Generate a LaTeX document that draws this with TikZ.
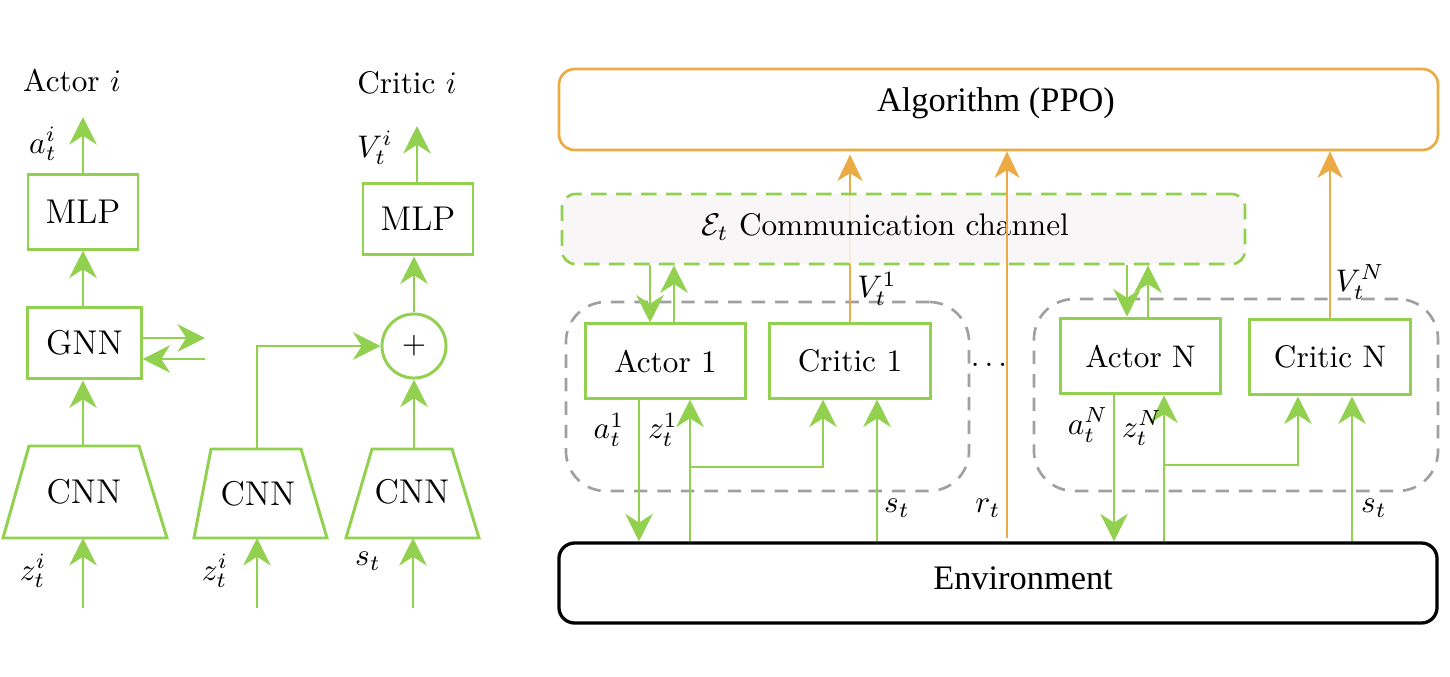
\documentclass[tikz,border=0pt]{standalone}
\usepackage{fontspec}
\newfontfamily\timesfont{Liberation Serif}
\usetikzlibrary{arrows.meta}
\definecolor{grn}{RGB}{146,208,80}
\definecolor{org}{RGB}{236,170,68}
\definecolor{gry}{RGB}{160,160,160}
\definecolor{chanfill}{RGB}{247,245,246}
\begin{document}
\begin{tikzpicture}[x=0.32pt,y=-0.32pt,
  gbox/.style={draw=grn, line width=0.95pt, fill=white, inner sep=0pt},
  garrow/.style={draw=grn, line width=0.85pt, -{Stealth[length=8.8pt,width=8.8pt,inset=2.8pt]}},
  oarrow/.style={draw=org, line width=0.7pt, -{Stealth[length=8.5pt,width=8pt,inset=2.5pt]}},
  grp/.style={draw=gry, line width=0.85pt, dash pattern=on 4.3pt off 3.2pt, rounded corners=12.8pt, inner sep=0pt},
  chanbox/.style={draw=grn, line width=0.85pt, dash pattern=on 5pt off 3pt, rounded corners=4.3pt, fill=chanfill, fill opacity=0.85, inner sep=0pt},
  algbox/.style={draw=org, line width=0.85pt, rounded corners=5pt, inner sep=0pt},
  envbox/.style={draw=black, line width=1.05pt, rounded corners=5pt, inner sep=0pt},
  lbl/.style={inner sep=0pt},
  big/.style={font=\fontsize{11pt}{13pt}\selectfont},
  tms/.style={font=\timesfont\fontsize{11pt}{13pt}\selectfont, inner sep=0pt}
]
\useasboundingbox (0,0) rectangle (1450,676);

% ---------------- left: Actor i ----------------
\node[lbl] (actlbl) at (72,80) {Actor $i$};
\node[lbl] (critlbl) at (407,83) {Critic $i$};
\node[gbox,big,minimum width=35.2pt,minimum height=23.7pt] (mlpa) at (83,212) {MLP};
\node[gbox,big,minimum width=36.2pt,minimum height=23pt] (gnn) at (84.5,343) {GNN};
\draw[gbox] (29,446) -- (139,446) -- (167,538) -- (3,538) -- cycle;
\node[big] (cnna) at (84,492) {CNN};
\coordinate (cnnatop) at (83,446);
\coordinate (cnnabot) at (83,538);
\coordinate (ina) at (83,608);
\coordinate (aout) at (83,117);
\draw[garrow] (mlpa.north -| aout) -- (aout);
\draw[garrow] (gnn.north -| aout) -- (mlpa.south -| aout);
\draw[garrow] (cnnatop) -- (gnn.south -| cnnatop);
\draw[garrow] (ina) -- (cnnabot);
\coordinate (gout) at (205,338);
\coordinate (gin) at (205,359);
\draw[garrow] (gnn.east |- gout) -- (gout);
\draw[garrow] (gin) -- (gnn.east |- gin);
\node[lbl] (ati) at (43,144) {$a_t^i$};
\node[lbl] (zai) at (33,571) {$z_t^i$};

% ---------------- left: Critic i ----------------
\draw[gbox] (211,449) -- (301,449) -- (327,538) -- (194,538) -- cycle;
\node[big] (cnnb) at (258,494) {CNN};
\coordinate (cnnbtop) at (257,449);
\coordinate (cnnbbot) at (257,538);
\coordinate (inb) at (257,608);
\node[gbox,circle,minimum size=20.5pt] (circ) at (414,346) {$+$};
\draw[garrow] (cnnbtop) |- (circ.west);
\draw[garrow] (inb) -- (cnnbbot);
\node[lbl] (zbi) at (215,571) {$z_t^i$};

\draw[gbox] (372,449) -- (452,449) -- (479,538) -- (346,538) -- cycle;
\node[big] (cnnc) at (412,492) {CNN};
\coordinate (cnnctop) at (414,449);
\coordinate (cnncbot) at (413,538);
\coordinate (inc) at (413,608);
\draw[garrow] (cnnctop) -- (circ.south);
\draw[garrow] (inc) -- (cnncbot);
\node[gbox,big,minimum width=35.2pt,minimum height=23pt] (mlpb) at (418,219) {MLP};
\draw[garrow] (circ.north) -- (mlpb.south -| circ.north);
\coordinate (vout) at (417,126);
\draw[garrow] (mlpb.north -| vout) -- (vout);
\node[lbl] (vti) at (375,148) {$V_t^i$};
\node[lbl] (st0) at (368,561) {$s_t$};

% ---------------- right ----------------
\node[algbox,minimum width=281.3pt,minimum height=25.9pt] (alg) at (998.5,109.5) {};
\node[tms] (algtxt) at (996,103) {Algorithm (PPO)};
\node[envbox,minimum width=281pt,minimum height=25.6pt] (env) at (998,583) {};
\node[tms] (envtxt) at (1023,578) {Environment};

\node[grp,minimum width=129pt,minimum height=60.5pt] (g1) at (767.5,396.5) {};
\node[grp,minimum width=129.3pt,minimum height=61.4pt] (g2) at (1236,395) {};

\node[gbox,minimum width=51.5pt,minimum height=23.7pt] (a1) at (665.5,361) {Actor 1};
\node[gbox,minimum width=51.8pt,minimum height=23.7pt] (c1) at (850,361) {Critic 1};
\node[gbox,minimum width=51.5pt,minimum height=24.3pt] (aN) at (1140.5,356) {Actor N};
\node[gbox,minimum width=51.8pt,minimum height=24.3pt] (cN) at (1330,357) {Critic N};

% orange value line behind the channel
\draw[oarrow,shorten >=1pt] (c1.north) -- (alg.south -| c1.north);

\node[chanbox,minimum width=218.6pt,minimum height=22.4pt] (chan) at (903.5,229) {};
\node[lbl] (chantxt) at (885,227) {$\mathcal{E}_t$ Communication channel};

\coordinate (rbot) at (1007,538);
\draw[oarrow] (rbot) -- (alg.south -| rbot);
\draw[oarrow] (cN.north) -- (alg.south -| cN.north);

% ports
\coordinate (pa1d) at (650,0);
\coordinate (pa1u) at (674,0);
\coordinate (pa1) at (639,0);
\coordinate (pz1) at (690,0);
\coordinate (pc1z) at (823,0);
\coordinate (ps1) at (877,0);
\coordinate (paNd) at (1127,0);
\coordinate (paNu) at (1148,0);
\coordinate (paN) at (1114,0);
\coordinate (pzN) at (1164,0);
\coordinate (pcNz) at (1298,0);
\coordinate (psN) at (1352,0);
\coordinate (br1) at (690,467);
\coordinate (brN) at (1164,465);

% group 1
\draw[garrow] (chan.south -| pa1d) -- (a1.north -| pa1d);
\draw[garrow] (a1.north -| pa1u) -- (chan.south -| pa1u);
\draw[garrow] (a1.south -| pa1) -- (env.north -| pa1);
\draw[garrow] (env.north -| pz1) -- (a1.south -| pz1);
\draw[garrow] (br1) -| (c1.south -| pc1z);
\draw[garrow] (env.north -| ps1) -- (c1.south -| ps1);

% group N
\draw[garrow] (chan.south -| paNd) -- (aN.north -| paNd);
\draw[garrow] (aN.north -| paNu) -- (chan.south -| paNu);
\draw[garrow] (aN.south -| paN) -- (env.north -| paN);
\draw[garrow] (env.north -| pzN) -- (aN.south -| pzN);
\draw[garrow] (brN) -| (cN.south -| pcNz);
\draw[garrow] (env.north -| psN) -- (cN.south -| psN);

% labels
\node[lbl] (la1) at (609,430) {$a_t^1$};
\node[lbl] (lz1) at (663,430) {$z_t^1$};
\node[lbl] (ls1) at (897,508) {$s_t$};
\node[lbl] (lr) at (988,508) {$r_t$};
\node[lbl] (laN) at (1088,425) {$a_t^N$};
\node[lbl] (lzN) at (1142,428) {$z_t^N$};
\node[lbl] (lsN) at (1374,508) {$s_t$};
\node[lbl] (lv1) at (877,289) {$V_t^1$};
\node[lbl] (lvN) at (1360,282) {$V_t^N$};
\node[lbl] (dots) at (989,365) {$\dots$};
\end{tikzpicture}
\end{document}
